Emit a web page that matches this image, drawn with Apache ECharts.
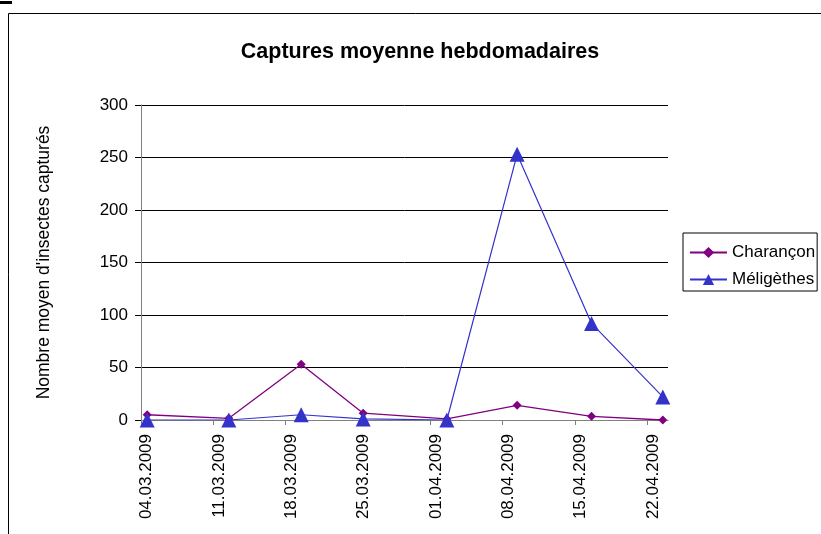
<!DOCTYPE html>
<html>
<head>
<meta charset="utf-8">
<script src="https://cdn.jsdelivr.net/npm/echarts@6/dist/echarts.min.js"></script>
<style>
  html, body { margin: 0; padding: 0; background: #fff; }
  #chart { width: 821px; height: 534px; }
</style>
</head>
<body>
<div id="chart"></div>
<script>
// dates des étiquettes de l'axe (une tous les 7 jours)
var tickLabels = ['04.03.2009', '11.03.2009', '18.03.2009', '25.03.2009', '01.04.2009', '08.04.2009', '15.04.2009', '22.04.2009']
// jour du relevé, compté depuis le 04.03.2009
var sampleDays = [0.6, 8.5, 15.5, 21.5, 29.6, 36.4, 43.6, 50.5]
var charancon = [5, 1.6, 53, 6.5, 1, 14, 3.5, 0]
var meligethes = [0, 0, 5, 1, 0, 253, 92, 22]
var yTicks = [0, 50, 100, 150, 200, 250, 300]

var font = 'Liberation Sans, Arial, sans-serif'
var tickValues = tickLabels.map(function(l, i) { return i * 7 })

function pairs(ys) {
  return ys.map(function(y, i) { return [sampleDays[i], y] })
}

var chart = echarts.init(document.getElementById('chart'))
chart.setOption({
  animation: false,
  textStyle: { fontFamily: font },
  title: {
    text: 'Captures moyenne hebdomadaires',
    left: 415,
    top: 36,
    textAlign: 'center',
    textStyle: { fontFamily: font, fontSize: 21.5, fontWeight: 'bold', color: '#000' }
  },
  graphic: [
    { type: 'rect', shape: { x: 0, y: 1, width: 12, height: 3 }, style: { fill: '#000' } },
    { type: 'rect', shape: { x: 8.5, y: 13.5, width: 900, height: 600 }, style: { fill: 'none', stroke: '#000', lineWidth: 1 }, z: -1 }
  ],
  legend: {
    orient: 'vertical',
    left: 683,
    top: 233,
    padding: [11, 2, 3, 6],
    itemGap: 10,
    itemWidth: 37,
    itemHeight: 14,
    borderColor: '#000',
    borderWidth: 1,
    textStyle: { fontFamily: font, fontSize: 17, color: '#000' },
    data: ['Charançon', 'Méligèthes']
  },
  grid: { left: 141, top: 105, right: 153, bottom: 114, containLabel: false },
  xAxis: {
    type: 'value',
    min: 0,
    max: 51,
    interval: 7,
    splitLine: { show: false },
    axisLine: { lineStyle: { color: '#808080', width: 1 } },
    axisTick: { length: 5, lineStyle: { color: '#808080' }, customValues: tickValues },
    axisLabel: {
      rotate: 90,
      margin: 14,
      fontSize: 17,
      color: '#000',
      fontFamily: font,
      verticalAlign: 'top',
      lineHeight: 11,
      customValues: tickValues,
      formatter: function(v) { return tickLabels[Math.round(v / 7)] || '' }
    }
  },
  yAxis: {
    type: 'value',
    min: yTicks[0],
    max: yTicks[yTicks.length - 1],
    interval: 50,
    name: "Nombre moyen d'insectes capturés",
    nameLocation: 'middle',
    nameGap: 88,
    nameRotate: 90,
    nameTextStyle: { fontFamily: font, fontSize: 17.5, color: '#000' },
    axisLine: { show: true, lineStyle: { color: '#808080', width: 1 } },
    axisTick: { show: true, length: 6, lineStyle: { color: '#000' } },
    axisLabel: { margin: 13, fontSize: 17, color: '#000', fontFamily: font },
    splitLine: { lineStyle: { color: '#000', width: 1 } }
  },
  series: [
    {
      name: 'Charançon',
      type: 'line',
      data: pairs(charancon),
      symbol: 'diamond',
      symbolSize: 9,
      lineStyle: { color: '#800080', width: 1.3 },
      itemStyle: { color: '#800080' }
    },
    {
      name: 'Méligèthes',
      type: 'line',
      data: pairs(meligethes),
      symbol: 'triangle',
      symbolSize: 15,
      lineStyle: { color: '#3333cc', width: 1.2 },
      itemStyle: { color: '#3333cc' }
    }
  ]
})
</script>
</body>
</html>
